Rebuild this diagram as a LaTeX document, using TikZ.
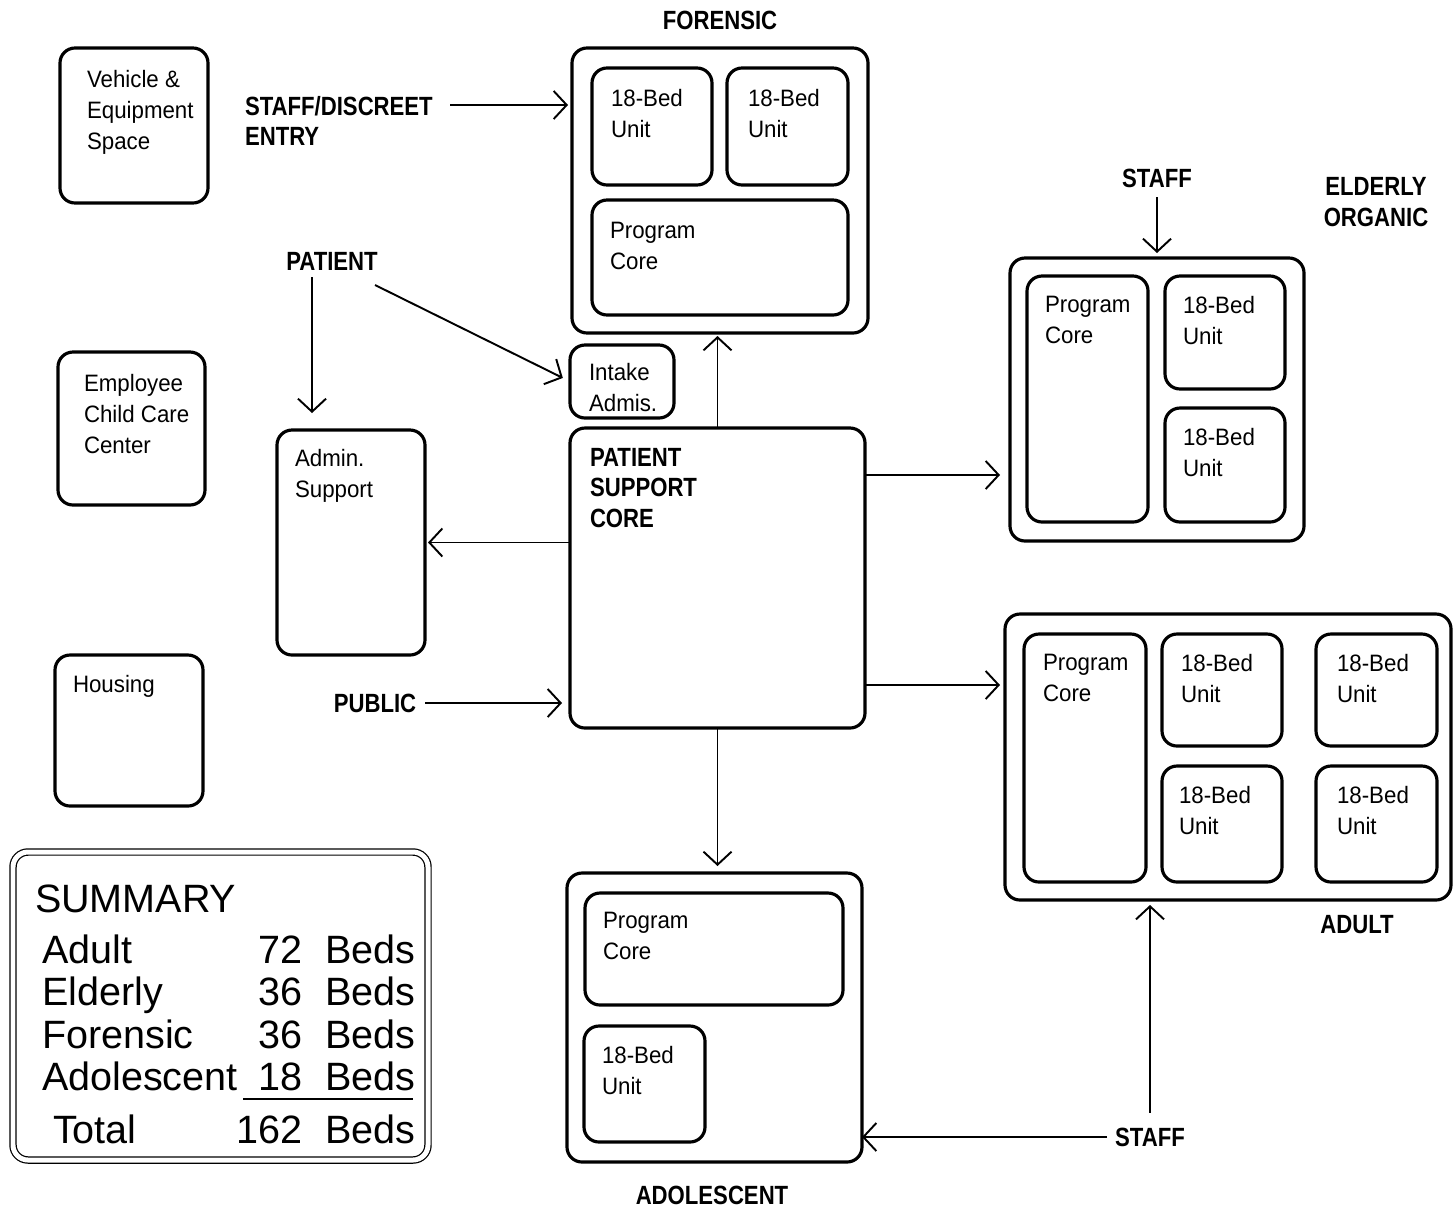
\documentclass[tikz,border=0pt]{standalone}
\usepackage{fontspec}
\setmainfont{Liberation Sans}
\newfontfamily\roomfont[FakeStretch=0.94]{Liberation Sans}
\newfontfamily\lblfont[FakeStretch=0.84]{Liberation Sans}
\usetikzlibrary{arrows.meta,fit}

\begin{document}
\begin{tikzpicture}[x={(0.02cm,0cm)},y={(0cm,-0.02cm)},
  every node/.style={inner sep=0pt, outer sep=0pt, align=left, font=\roomfont\fontsize{13.5}{17.6}\selectfont},
  room/.style={draw, line width=1.8pt, rounded corners=0.3cm, fit={#1}},
  lbl/.style={font=\lblfont\bfseries\fontsize{15}{17.4}\selectfont},
  big/.style={font=\fontsize{22.5}{27}\selectfont},
  flow/.style={line width=1.1pt, shorten >=0.12cm, -{Straight Barb[length=0.26cm,width=0.56cm]}}]

\useasboundingbox (0,0) rectangle (1453,1208);

\node[room={(60,48) (208,203)}] (veh) {};
\node[anchor=north west] (vehT) at (87,70) {Vehicle \&\\Equipment\\Space};
\node[room={(58,352) (205,505)}] (emp) {};
\node[anchor=north west] (empT) at (84,374) {Employee\\Child Care\\Center};
\node[room={(55,655) (203,806)}] (hou) {};
\node[anchor=north west] (houT) at (73,675) {Housing};

\node[lbl, anchor=north west] (sde) at (245,96) {STAFF/DISCREET\\ENTRY};
\node[lbl] (pat) at (332,261) {PATIENT};
\node[lbl] (pub) at (375,703) {PUBLIC};

\node[lbl] (forT) at (720,20) {FORENSIC};
\node[room={(572,48) (868,333)}] (for) {};
\node[room={(592,68) (712,185)}] (fu1) {};
\node[anchor=north west] (fu1T) at (611,89) {18-Bed\\Unit};
\node[room={(727,68) (848,185)}] (fu2) {};
\node[anchor=north west] (fu2T) at (748,89) {18-Bed\\Unit};
\node[room={(592,200) (848,315)}] (fco) {};
\node[anchor=north west] (fcoT) at (610,222) {Program\\Core};

\node[room={(570,345) (674,418)}] (int) {};
\node[anchor=north west] (intT) at (589,363) {Intake\\Admis.};

\node[room={(277,430) (425,655)}] (adm) {};
\node[anchor=north west] (admT) at (295,449) {Admin.\\Support};

\node[room={(570,428) (865,728)}] (core) {};
\node[lbl, anchor=north west] (coreT) at (590,448) {PATIENT\\SUPPORT\\CORE};

\node[lbl] (stE) at (1157,178) {STAFF};
\node[lbl, align=center] (eldT) at (1376,202) {ELDERLY\\ORGANIC};
\node[room={(1010,258) (1304,541)}] (eld) {};
\node[room={(1027,276) (1148,522)}] (eco) {};
\node[anchor=north west] (ecoT) at (1045,296) {Program\\Core};
\node[room={(1165,276) (1285,389)}] (eu1) {};
\node[anchor=north west] (eu1T) at (1183,296) {18-Bed\\Unit};
\node[room={(1165,408) (1285,522)}] (eu2) {};
\node[anchor=north west] (eu2T) at (1183,428) {18-Bed\\Unit};

\node[room={(1005,614) (1451,900)}] (adu) {};
\node[room={(1024,634) (1146,882)}] (aco) {};
\node[anchor=north west] (acoT) at (1043,654) {Program\\Core};
\node[room={(1162,634) (1282,746)}] (au1) {};
\node[anchor=north west] (au1T) at (1181,654) {18-Bed\\Unit};
\node[room={(1316,634) (1437,746)}] (au2) {};
\node[anchor=north west] (au2T) at (1337,654) {18-Bed\\Unit};
\node[room={(1162,766) (1282,882)}] (au3) {};
\node[anchor=north west] (au3T) at (1179,786) {18-Bed\\Unit};
\node[room={(1316,766) (1437,882)}] (au4) {};
\node[anchor=north west] (au4T) at (1337,786) {18-Bed\\Unit};
\node[lbl] (aduT) at (1357,925) {ADULT};
\node[lbl] (stA) at (1150,1137) {STAFF};

\node[room={(567,873) (862,1162)}] (ado) {};
\node[room={(585,893) (843,1005)}] (oco) {};
\node[anchor=north west] (ocoT) at (603,912) {Program\\Core};
\node[room={(584,1026) (705,1142)}] (ou1) {};
\node[anchor=north west] (ou1T) at (602,1046) {18-Bed\\Unit};
\node[lbl] (adoT) at (712,1195) {ADOLESCENT};

\node[room={(13,852) (428,1160)}, double, double distance=0.1cm, line width=0.7pt] (sum) {};
\node[big, anchor=base west] (sumT) at (35,912) {SUMMARY};
\foreach \nm/\nb/\yy [count=\i] in {Adult/72/963, Elderly/36/1005, Forensic/36/1048, Adolescent/18/1090} {
  \node[big, anchor=base west] (sn\i) at (42,\yy) {\nm};
  \node[big, anchor=base east] (sv\i) at (302,\yy) {\nb};
  \node[big, anchor=base west] (sb\i) at (325,\yy) {Beds};
}
\draw[line width=1.2pt] (243,1099) -- (413,1099);
\node[big, anchor=base west] (snT) at (53,1143) {Total};
\node[big, anchor=base east] (svT) at (302,1143) {162};
\node[big, anchor=base west] (sbT) at (325,1143) {Beds};

\coordinate (sdeE) at (450,105);
\coordinate (patL) at ([shift={(-20,16)}]pat.center);
\coordinate (patR) at ([shift={(43,24)}]pat.center);
\coordinate (coreE1) at ([shift={(0,-103)}]core.east);
\coordinate (coreE2) at ([shift={(0,107)}]core.east);
\draw[flow, shorten >=0.08cm] (sdeE) -- (sdeE -| for.west);
\draw[flow, shorten >=0.34cm] (patL) -- (patL |- adm.north);
\draw[flow, shorten >=0.16cm] (patR) -- (int.west);
\draw[flow, shorten >=0.06cm] (core.north) -- (core.north |- for.south);
\draw[flow, shorten >=0.06cm] (adm.east -| core.west) -- (adm.east);
\draw[flow, shorten >=0.16cm] ([xshift=0.18cm]pub.east) -- (pub.east -| core.west);
\draw[flow, shorten >=0.2cm] (coreE1) -- (coreE1 -| eld.west);
\draw[flow, shorten >=0.1cm] (coreE2) -- (coreE2 -| adu.west);
\draw[flow, shorten >=0.14cm] (core.south) -- (core.south |- ado.north);
\draw[flow, shorten >=0.1cm] ([yshift=-0.2cm]stE.south) -- (stE.south |- eld.north);
\draw[flow, shorten >=0.1cm] ([yshift=0.3cm]stA.north) -- (stA.north |- adu.south);
\draw[flow, shorten >=0pt] ([xshift=-0.16cm]stA.west) -- (stA.west -| ado.east);
\end{tikzpicture}
\end{document}
